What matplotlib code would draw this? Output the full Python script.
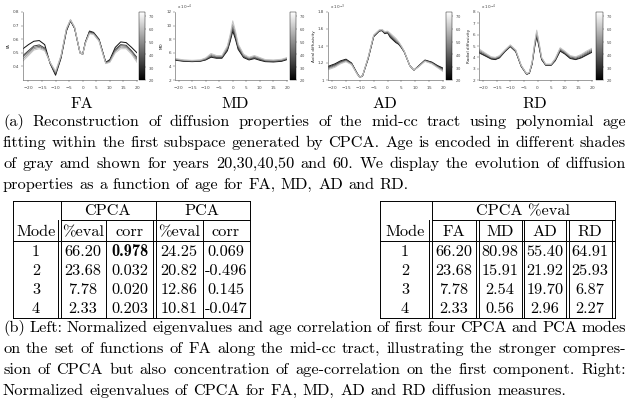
import matplotlib
matplotlib.use("Agg")
import matplotlib.pyplot as plt
from matplotlib.lines import Line2D
from matplotlib.colors import Normalize
from matplotlib.cm import ScalarMappable

plt.rcParams["axes.formatter.use_mathtext"] = True

# ---------------- data ----------------
ages = [20, 30, 40, 50, 60]

fa_x = [-22, -20, -18, -16, -14, -12, -10, -8, -6, -4.5, -3, -1, 0, 1, 2.5, 4, 6, 8.5, 10, 12, 14, 16, 18, 20]
fa_values = [
    [0.53, 0.56, 0.585, 0.59, 0.56, 0.42, 0.335, 0.46, 0.66, 0.735, 0.68, 0.50, 0.49, 0.58, 0.66, 0.65, 0.60, 0.43, 0.45, 0.54, 0.58, 0.575, 0.54, 0.50],
    [0.48, 0.515, 0.55, 0.558, 0.535, 0.425, 0.345, 0.468, 0.665, 0.737, 0.682, 0.50, 0.49, 0.578, 0.655, 0.645, 0.597, 0.428, 0.445, 0.525, 0.56, 0.555, 0.515, 0.465],
    [0.47, 0.505, 0.54, 0.548, 0.528, 0.427, 0.35, 0.472, 0.67, 0.74, 0.685, 0.50, 0.49, 0.575, 0.65, 0.642, 0.593, 0.425, 0.44, 0.518, 0.552, 0.548, 0.508, 0.455],
    [0.455, 0.492, 0.53, 0.54, 0.522, 0.429, 0.357, 0.476, 0.675, 0.742, 0.688, 0.50, 0.49, 0.572, 0.645, 0.638, 0.589, 0.422, 0.435, 0.51, 0.542, 0.54, 0.50, 0.443],
    [0.44, 0.48, 0.52, 0.53, 0.515, 0.43, 0.365, 0.48, 0.68, 0.745, 0.69, 0.50, 0.49, 0.57, 0.64, 0.635, 0.585, 0.42, 0.43, 0.50, 0.53, 0.53, 0.49, 0.43],
]

md_x = [-21, -18, -15, -12, -10, -8, -6, -4, -2, -1, 0, 1, 2, 4, 6, 8, 10, 12, 15, 18, 20]
md_values = [
    [4.9, 4.75, 4.7, 4.75, 4.95, 5.35, 5.2, 5.2, 6.3, 7.6, 9.2, 8.0, 6.5, 5.3, 4.95, 5.15, 4.9, 4.7, 4.65, 4.75, 5.0],
    [4.95, 4.8, 4.75, 4.8, 5.0, 5.45, 5.3, 5.3, 6.45, 7.85, 9.5, 8.3, 6.7, 5.4, 5.05, 5.25, 5.0, 4.78, 4.73, 4.82, 5.07],
    [5.0, 4.85, 4.8, 4.85, 5.08, 5.6, 5.4, 5.4, 6.6, 8.1, 9.8, 8.6, 6.9, 5.5, 5.15, 5.35, 5.1, 4.85, 4.8, 4.9, 5.15],
    [5.07, 4.9, 4.85, 4.9, 5.16, 5.75, 5.5, 5.5, 6.8, 8.35, 10.2, 8.9, 7.1, 5.65, 5.25, 5.48, 5.2, 4.92, 4.87, 4.97, 5.22],
    [5.15, 4.95, 4.9, 4.95, 5.25, 5.9, 5.6, 5.6, 7.0, 8.6, 10.7, 9.2, 7.3, 5.8, 5.35, 5.6, 5.3, 5.0, 4.95, 5.05, 5.3],
]

ad_x = [-21.5, -19, -17, -15, -13, -11, -10, -9, -7, -5, -3, -2, -1, 0, 1, 2, 3, 4, 5, 6, 7, 8, 9.5, 11, 13.5, 16, 18, 20]
ad_values = [
    [1.16, 1.19, 1.225, 1.245, 1.20, 1.08, 1.03, 1.05, 1.25, 1.51, 1.575, 1.58, 1.545, 1.555, 1.50, 1.47, 1.44, 1.42, 1.38, 1.33, 1.25, 1.17, 1.115, 1.16, 1.235, 1.21, 1.17, 1.14],
    [1.15, 1.18, 1.215, 1.237, 1.195, 1.078, 1.03, 1.052, 1.255, 1.515, 1.58, 1.585, 1.55, 1.56, 1.51, 1.48, 1.45, 1.427, 1.385, 1.333, 1.252, 1.17, 1.115, 1.157, 1.23, 1.205, 1.163, 1.13],
    [1.14, 1.17, 1.207, 1.23, 1.19, 1.075, 1.03, 1.053, 1.26, 1.52, 1.583, 1.588, 1.557, 1.565, 1.525, 1.495, 1.465, 1.435, 1.39, 1.336, 1.253, 1.17, 1.115, 1.155, 1.227, 1.20, 1.157, 1.12],
    [1.13, 1.16, 1.198, 1.222, 1.185, 1.072, 1.03, 1.054, 1.265, 1.525, 1.586, 1.591, 1.563, 1.57, 1.538, 1.508, 1.478, 1.443, 1.395, 1.338, 1.254, 1.17, 1.115, 1.152, 1.223, 1.195, 1.151, 1.11],
    [1.12, 1.15, 1.19, 1.215, 1.18, 1.07, 1.03, 1.055, 1.27, 1.53, 1.59, 1.595, 1.57, 1.575, 1.55, 1.52, 1.49, 1.45, 1.40, 1.34, 1.255, 1.17, 1.115, 1.15, 1.22, 1.19, 1.145, 1.10],
]

rd_x = [-21.5, -19, -17, -15.5, -14, -12, -10, -8, -6, -4, -3, -2, -1, -0.3, 0.5, 1.5, 3, 5, 6.5, 8.3, 10, 12, 14, 16, 18, 20]
rd_values = [
    [4.4, 4.1, 3.85, 3.8, 3.95, 4.5, 4.95, 4.5, 3.2, 2.5, 2.6, 3.4, 5.0, 5.85, 5.0, 3.8, 3.3, 3.3, 3.7, 4.55, 4.3, 3.9, 3.8, 3.95, 4.2, 4.45],
    [4.45, 4.15, 3.9, 3.85, 4.0, 4.53, 4.98, 4.53, 3.22, 2.51, 2.62, 3.45, 5.08, 5.95, 5.08, 3.84, 3.32, 3.32, 3.74, 4.61, 4.35, 3.95, 3.85, 4.0, 4.27, 4.52],
    [4.55, 4.22, 3.95, 3.9, 4.05, 4.57, 5.02, 4.57, 3.25, 2.52, 2.65, 3.5, 5.18, 6.1, 5.18, 3.9, 3.35, 3.35, 3.8, 4.7, 4.43, 4.03, 3.93, 4.1, 4.37, 4.62],
    [4.65, 4.29, 4.0, 3.95, 4.1, 4.61, 5.06, 4.61, 3.28, 2.54, 2.68, 3.55, 5.3, 6.25, 5.3, 3.95, 3.38, 3.38, 3.85, 4.78, 4.5, 4.1, 4.0, 4.18, 4.46, 4.72],
    [4.75, 4.35, 4.05, 4.0, 4.15, 4.65, 5.1, 4.65, 3.3, 2.55, 2.7, 3.6, 5.4, 6.4, 5.4, 4.0, 3.4, 3.4, 3.9, 4.85, 4.55, 4.15, 4.05, 4.25, 4.55, 4.8],
]

panel_names = ["FA", "MD", "AD", "RD"]
panel_ylabels = ["FA", "MD", "Axial diffusivity", "Radial diffusivity"]
colorbar_ticks = [20, 30, 40, 50, 60, 70]

table_modes = [1, 2, 3, 4]
cpca_eval = [66.20, 23.68, 7.78, 2.33]
cpca_corr = [0.978, 0.032, 0.020, 0.203]
pca_eval = [24.25, 20.82, 12.86, 10.81]
pca_corr = [0.069, -0.496, 0.145, -0.047]

measures = ["FA", "MD", "AD", "RD"]
fa_eval = [66.20, 23.68, 7.78, 2.33]
md_eval = [80.98, 15.91, 2.54, 0.56]
ad_eval = [55.40, 21.92, 19.70, 2.96]
rd_eval = [64.91, 25.93, 6.87, 2.27]

caption_a = [
    "(a) Reconstruction of diffusion properties of the mid-cc tract using polynomial age",
    "fitting within the first subspace generated by CPCA. Age is encoded in different shades",
    "of gray amd shown for years 20,30,40,50 and 60. We display the evolution of diffusion",
    "properties as a function of age for FA, MD, AD and RD.",
]
caption_b = [
    "(b) Left: Normalized eigenvalues and age correlation of first four CPCA and PCA modes",
    "on the set of functions of FA along the mid-cc tract, illustrating the stronger compres-",
    "sion of CPCA but also concentration of age-correlation on the first component. Right:",
    "Normalized eigenvalues of CPCA for FA, MD, AD and RD diffusion measures.",
]

# ---------------- figure ----------------
W, H = 629, 400
fig = plt.figure(figsize=(W / 100, H / 100), dpi=100)
fig.patch.set_facecolor("white")


def fx(x):
    return x / W


def fy(y):
    return 1 - y / H


renderer = fig.canvas.get_renderer()
X0, X1 = 3, 626


def measure(s, size, fam="cmr10"):
    t = fig.text(0, 0, s, fontsize=size, family=fam)
    w = t.get_window_extent(renderer).width
    t.remove()
    return w


trial = 11.0
space_t = measure("x x", trial) - measure("xx", trial)
maxnat = 0
for ln in caption_a[:-1] + caption_b[:-1]:
    ws = [measure(w, trial) for w in ln.split()]
    maxnat = max(maxnat, sum(ws) + space_t * (len(ws) - 1))
FS = trial * (X1 - X0) * 1.02 / maxnat
SPACE = measure("x x", FS) - measure("xx", FS)

norm = Normalize(17, 73)
cmap = plt.get_cmap("gray")
cb_norm = Normalize(20, 73)

panels = [
    dict(x=fa_x, ys=fa_values, box=(23, 137), cb=(139, 145), xlim=(-22, 20), ylim=(0.3, 0.8),
         yticks=[0.4, 0.5, 0.6, 0.7, 0.8], ylabs=["0.4", "0.5", "0.6", "0.7", "0.8"], off=None, lab_x=82),
    dict(x=md_x, ys=md_values, box=(175, 287), cb=(290, 296), xlim=(-21.3, 20), ylim=(2, 12),
         yticks=[2, 4, 6, 8, 10, 12], ylabs=["2", "4", "6", "8", "10", "12"], off="x 10$^{-4}$", lab_x=235),
    dict(x=ad_x, ys=ad_values, box=(328, 443), cb=(446, 452), xlim=(-21.5, 20), ylim=(1.0, 1.8),
         yticks=[1.0, 1.2, 1.4, 1.6, 1.8], ylabs=["1", "1.2", "1.4", "1.6", "1.8"], off="x 10$^{-3}$", lab_x=385),
    dict(x=rd_x, ys=rd_values, box=(479, 592), cb=(596, 603), xlim=(-21.5, 20), ylim=(2, 8),
         yticks=[2, 3, 4, 5, 6, 7, 8], ylabs=["2", "3", "4", "5", "6", "7", "8"], off="x 10$^{-4}$", lab_x=535),
]

TOP, BOT = 12, 80
for i, p in enumerate(panels):
    l, r = p["box"]
    ax = fig.add_axes([fx(l), fy(BOT), (r - l) / W, (BOT - TOP) / H])
    for age, ys in zip(ages, p["ys"]):
        ax.plot(p["x"], ys, color=cmap(norm(age)), lw=0.7)
    ax.set_xlim(*p["xlim"])
    ax.set_ylim(*p["ylim"])
    ax.set_xticks([-20, -15, -10, -5, 0, 5, 10, 15, 20])
    ax.set_yticks(p["yticks"])
    ax.set_yticklabels(p["ylabs"])
    for s in ("top", "right"):
        ax.spines[s].set_visible(False)
    for s in ("left", "bottom"):
        ax.spines[s].set_linewidth(0.4)
        ax.spines[s].set_color("#555555")
    ax.tick_params(labelsize=3, length=1.2, width=0.3, pad=1.5, colors="#444444")
    ax.set_ylabel(panel_ylabels[i], fontsize=3, labelpad=1.5, color="#222222")
    if p["off"]:
        ax.text(0.02, 1.0, p["off"], transform=ax.transAxes, fontsize=3, va="bottom", color="#444444")
    c0, c1 = p["cb"]
    cax = fig.add_axes([fx(c0), fy(BOT), (c1 - c0) / W, (BOT - TOP) / H])
    cb = fig.colorbar(ScalarMappable(norm=cb_norm, cmap=cmap), cax=cax)
    cb.set_ticks(colorbar_ticks)
    cb.ax.tick_params(labelsize=2.6, length=1, width=0.3, pad=1, colors="#444444")
    cb.outline.set_linewidth(0.3)
    fig.text(fx(p["lab_x"]), fy(108), panel_names[i], family="cmr10", fontsize=FS,
             ha="center", va="baseline")


# ---------------- caption text ----------------
def place_line(line, base_y, justify=True):
    words = line.split()
    ts = [fig.text(0, fy(base_y), w, fontsize=FS, family="cmr10", va="baseline", ha="left") for w in words]
    ws = [t.get_window_extent(renderer).width for t in ts]
    gap = (X1 - X0 - sum(ws)) / (len(ws) - 1) if justify else SPACE
    x = X0
    for t, w in zip(ts, ws):
        t.set_x(fx(x))
        x += w + gap


for k, ln in enumerate(caption_a):
    place_line(ln, 126 + 21 * k, justify=(k < len(caption_a) - 1))
for k, ln in enumerate(caption_b):
    place_line(ln, 332 + 21 * k, justify=(k < len(caption_b) - 1))

# ---------------- tables ----------------
LW = 0.7


def hline(y, x0, x1):
    fig.add_artist(Line2D([fx(x0), fx(x1)], [fy(y), fy(y)], transform=fig.transFigure, lw=LW, color="black"))


def vline(x, y0, y1):
    fig.add_artist(Line2D([fx(x), fx(x)], [fy(y0), fy(y1)], transform=fig.transFigure, lw=LW, color="black"))


def cell(x, y, s, bold=False):
    fig.text(fx(x), fy(y), s, fontsize=FS, family="cmb10" if bold else "cmr10", ha="center", va="baseline")


T_TOP, T_MID, T_HEAD, T_BOT = 201, 220, 241, 318
HB1, HB2 = 215, 236
ROW_B = [256, 275, 294, 313]

# left table
hline(T_TOP, 13, 250)
hline(T_MID, 61, 250)
hline(T_HEAD, 13, 250)
hline(T_BOT, 13, 250)
vline(13, T_TOP, T_BOT)
vline(58.3, T_MID, T_BOT)
vline(61, T_TOP, T_BOT)
vline(106, T_MID, T_BOT)
vline(152.8, T_MID, T_BOT)
vline(155.5, T_TOP, T_BOT)
vline(203, T_MID, T_BOT)
vline(250, T_TOP, T_BOT)

cell(107, HB1, "CPCA")
cell(202, HB1, "PCA")
for xx, s in zip([36, 83, 130, 179, 226], ["Mode", "%eval", "corr", "%eval", "corr"]):
    cell(xx, HB2, s)
for k, yb in enumerate(ROW_B):
    cell(36, yb, str(table_modes[k]))
    cell(83, yb, f"{cpca_eval[k]:.2f}")
    cell(130, yb, f"{cpca_corr[k]:.3f}", bold=(k == 0))
    cell(179, yb, f"{pca_eval[k]:.2f}")
    cell(226, yb, f"{pca_corr[k]:.3f}")

# right table
hline(T_TOP, 380, 615)
hline(T_MID, 432, 615)
hline(T_HEAD, 380, 615)
hline(T_BOT, 380, 615)
vline(380, T_TOP, T_BOT)
vline(429.3, T_MID, T_BOT)
vline(432, T_TOP, T_BOT)
for a in (476, 521.8, 566):
    vline(a, T_MID, T_BOT)
    vline(a + 2.6, T_MID, T_BOT)
vline(612.3, T_MID, T_BOT)
vline(615, T_TOP, T_BOT)

cell(523, HB1, "CPCA %eval")
cell(405, HB2, "Mode")
col_x = [454, 500, 545, 590]
for xx, s in zip(col_x, measures):
    cell(xx, HB2, s)
right_cols = [fa_eval, md_eval, ad_eval, rd_eval]
for k, yb in enumerate(ROW_B):
    cell(405, yb, str(table_modes[k]))
    for xx, col in zip(col_x, right_cols):
        cell(xx, yb, f"{col[k]:.2f}")

fig.savefig("out.png", dpi=100, facecolor="white")
